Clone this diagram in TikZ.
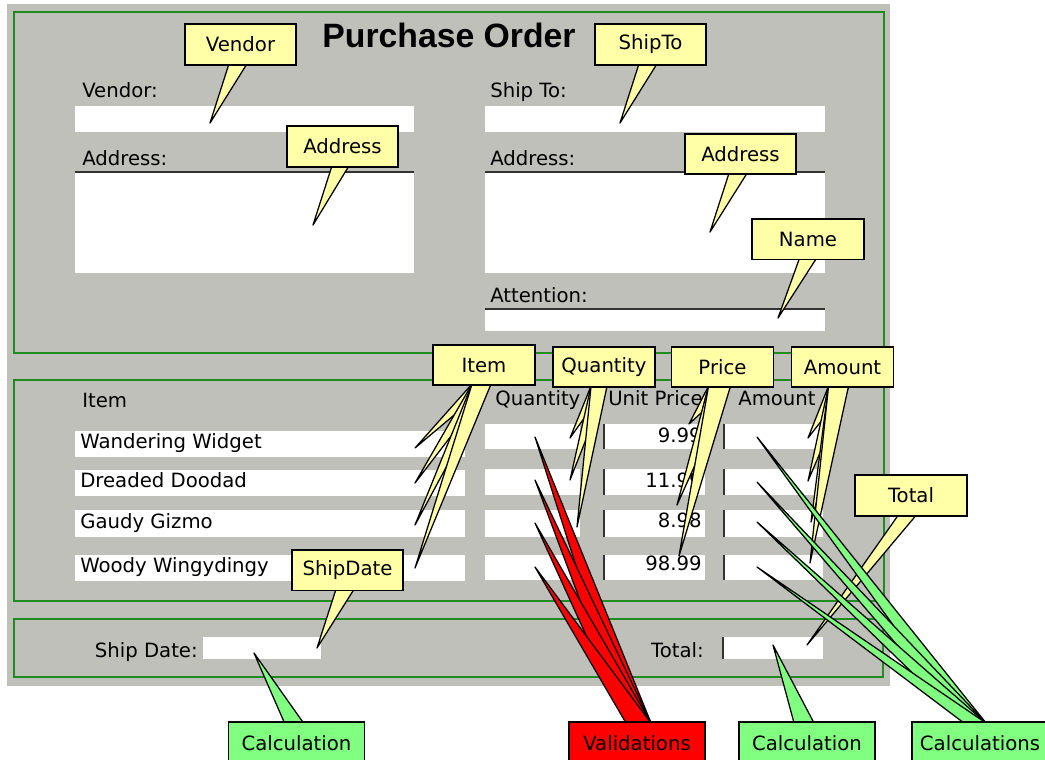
\documentclass[tikz,border=0pt]{standalone}
\usepackage{fontspec}
\setmainfont{DejaVu Sans}
\newfontfamily\titlefont{Liberation Sans}
\usetikzlibrary{positioning,calc}
\definecolor{formgray}{HTML}{C0C0BA}
\definecolor{formgreen}{HTML}{1E8C1E}
\definecolor{noteyellow}{HTML}{FFFFA8}
\definecolor{notegreen}{HTML}{80FF80}
\definecolor{notered}{HTML}{FF0000}
\pgfdeclarelayer{form}
\pgfdeclarelayer{tails}
\pgfsetlayers{form,tails,main}

\begin{document}
\begin{tikzpicture}[
  x=0.025cm, y=-0.025cm,
  section/.style={draw=formgreen, line width=1.1pt},
  field/.style={fill=white},
  edge/.style={draw=black!80, line width=1.1pt},
  lbl/.style={inner sep=0pt, font=\fontsize{14}{16}\selectfont},
  note/.style={draw, line width=1.3pt, fill=noteyellow, inner sep=0pt, font=\fontsize{14}{16}\selectfont},
  wide/.style={minimum width=2.78cm, minimum height=1.02cm},
  narrow/.style={minimum width=2.55cm, minimum height=1cm},
  tag/.style={draw, line width=1.3pt, inner sep=0pt, minimum width=3.4cm, minimum height=1.05cm, font=\fontsize{14}{16}\selectfont},
  tail/.style={draw, line width=0.9pt, fill=noteyellow, line join=round}
]
\useasboundingbox (0,0) rectangle (1045,759);

\begin{pgfonlayer}{form}
\fill[formgray] (7,4) rectangle (890,686);
\draw[section] (14,12) rectangle (884,353);
\draw[section] (14,380) rectangle (884,601);
\draw[section] (14,619) rectangle (883,677);
\node[anchor=base, inner sep=0pt, font=\titlefont\bfseries\fontsize{24}{28}\selectfont] (title) at (449,47) {Purchase Order};

\fill[field] (75,106) rectangle (414,132);
\fill[field] (75,172) rectangle (414,273);
\draw[edge] (75,172) -- (414,172);
\fill[field] (485,106) rectangle (825,132);
\fill[field] (485,172) rectangle (825,273);
\draw[edge] (485,172) -- (825,172);
\fill[field] (485,309) rectangle (825,331);
\draw[edge] (485,309) -- (825,309);
\foreach \ya/\yb in {431/457,470/496,510/537,555/581}
  \fill[field] (75,\ya) rectangle (465,\yb);
\foreach \ya/\yb in {424/449,469/495,510/537,555/580} {
  \fill[field] (485,\ya) rectangle (580,\yb);
  \fill[field] (603,\ya) rectangle (705,\yb);
  \fill[field] (723,\ya) rectangle (823,\yb);
  \draw[edge] (604,\ya) -- (604,\yb);
  \draw[edge] (724,\ya) -- (724,\yb);
}
\fill[field] (203,637) rectangle (321,659);
\fill[field] (722,637) rectangle (823,659);
\draw[edge] (723,637) -- (723,659);

\node[lbl, anchor=base west] (lVendor) at (82,97) {Vendor:};
\node[lbl, anchor=base west] (lAddrL) at (82,165) {Address:};
\node[lbl, anchor=base west] (lShipTo) at (490,97) {Ship To:};
\node[lbl, anchor=base west] (lAddrR) at (490,165) {Address:};
\node[lbl, anchor=base west] (lAttn) at (490,302) {Attention:};
\node[lbl, anchor=base west] (hItem) at (82,407) {Item};
\node[lbl, anchor=base west] (hQty) at (495,405) {Quantity};
\node[lbl, anchor=base west] (hPrice) at (608,405) {Unit Price};
\node[lbl, anchor=base west] (hAmount) at (738,405) {Amount};
\node[lbl, anchor=base west] (item1) at (80,448) {Wandering Widget};
\node[lbl, anchor=base west] (item2) at (80,487) {Dreaded Doodad};
\node[lbl, anchor=base west] (item3) at (80,528) {Gaudy Gizmo};
\node[lbl, anchor=base west] (item4) at (80,572) {Woody Wingydingy};
\node[lbl, anchor=base east] (price1) at (702,442) {9.99};
\node[lbl, anchor=base east] (price2) at (702,487) {11.99};
\node[lbl, anchor=base east] (price3) at (702,527) {8.98};
\node[lbl, anchor=base east] (price4) at (702,570) {98.99};
\node[lbl, anchor=base east] (lShipDate) at (198,657) {Ship Date:};
\node[lbl, anchor=base east] (lTotal) at (704,657) {Total:};
\end{pgfonlayer}

\node[note, wide] (cVendor) at (240.5,44.5) {Vendor};
\node[note, wide] (cAddrL) at (342.5,146.5) {Address};
\node[note, wide] (cShipTo) at (650.5,44.5) {ShipTo};
\node[note, wide] (cAddrR) at (740.5,154) {Address};
\node[note, wide] (cName) at (808,239) {Name};
\node[note, narrow] (cItem) at (484,365) {Item};
\node[note, narrow] (cQty) at (604,367) {Quantity};
\node[note, narrow] (cPrice) at (722.5,367) {Price};
\node[note, narrow] (cAmount) at (842.5,367) {Amount};
\node[note, wide] (cTotal) at (911,495.5) {Total};
\node[note, wide] (cShipDate) at (347.5,570) {ShipDate};
\node[tag, fill=notegreen] (cCalcL) at (296.5,743) {Calculation};
\node[tag, fill=notered] (cValid) at (637,743) {Validations};
\node[tag, fill=notegreen] (cCalcM) at (807,743) {Calculation};
\node[tag, fill=notegreen] (cCalcR) at (980,743) {Calculations};

\coordinate (tVendor) at (210,123);
\coordinate (tAddrL) at (313,225);
\coordinate (tShipTo) at (620,123);
\coordinate (tAddrR) at (710,232);
\coordinate (tName) at (778,318);
\coordinate (tItem1) at (415,448);
\coordinate (tItem2) at (415,483);
\coordinate (tItem3) at (415,525);
\coordinate (tItem4) at (415,568);
\coordinate (tQty1) at (570,438);
\coordinate (tQty2) at (570,480);
\coordinate (tQty3) at (577,527);
\coordinate (tPrice1) at (689,424);
\coordinate (tPrice2) at (683,487);
\coordinate (tPrice3) at (677,505);
\coordinate (tPrice4) at (679,556);
\coordinate (tAmount1) at (808,438);
\coordinate (tAmount2) at (808,481);
\coordinate (tAmount3) at (811,522);
\coordinate (tAmount4) at (810,563);
\coordinate (tTotal) at (807,645);
\coordinate (tShipDate) at (317,648);
\coordinate (tCalcL) at (254,653);
\coordinate (tCalcM) at (773,645);
\coordinate (tValid1) at (535,437);
\coordinate (tValid2) at (535,480);
\coordinate (tValid3) at (535,523);
\coordinate (tValid4) at (535,567);
\coordinate (tCalcR1) at (757,437);
\coordinate (tCalcR2) at (757,482);
\coordinate (tCalcR3) at (757,522);
\coordinate (tCalcR4) at (757,567);

\begin{pgfonlayer}{tails}
\draw[tail] ($(cVendor.south west)+(45,-2)$) -- (tVendor) -- ($(cVendor.south west)+(63,-2)$) -- cycle;
\draw[tail] ($(cAddrL.south west)+(46,-2)$) -- (tAddrL) -- ($(cAddrL.south west)+(63,-2)$) -- cycle;
\draw[tail] ($(cShipTo.south west)+(45,-2)$) -- (tShipTo) -- ($(cShipTo.south west)+(63,-2)$) -- cycle;
\draw[tail] ($(cAddrR.south west)+(45,-2)$) -- (tAddrR) -- ($(cAddrR.south west)+(63,-2)$) -- cycle;
\draw[tail] ($(cName.south west)+(48,-2)$) -- (tName) -- ($(cName.south west)+(65,-2)$) -- cycle;
\foreach \tip in {tItem1,tItem2,tItem3,tItem4}
  \draw[tail] ($(cItem.south west)+(40,-2)$) -- (\tip) -- ($(cItem.south west)+(59,-2)$) -- cycle;
\foreach \tip in {tQty1,tQty2,tQty3}
  \draw[tail] ($(cQty.south west)+(39,-2)$) -- (\tip) -- ($(cQty.south west)+(55,-2)$) -- cycle;
\foreach \tip in {tPrice1,tPrice2,tPrice3,tPrice4}
  \draw[tail] ($(cPrice.south west)+(38,-2)$) -- (\tip) -- ($(cPrice.south west)+(60,-2)$) -- cycle;
\foreach \tip in {tAmount1,tAmount2,tAmount3,tAmount4}
  \draw[tail] ($(cAmount.south west)+(38,-2)$) -- (\tip) -- ($(cAmount.south west)+(58,-2)$) -- cycle;
\draw[tail] ($(cTotal.south west)+(44,-2)$) -- (tTotal) -- ($(cTotal.south west)+(62,-2)$) -- cycle;
\draw[tail] ($(cShipDate.south west)+(45,-2)$) -- (tShipDate) -- ($(cShipDate.south west)+(63,-2)$) -- cycle;
\draw[tail, fill=notegreen] ($(cCalcL.north west)+(57,2)$) -- (tCalcL) -- ($(cCalcL.north west)+(76,2)$) -- cycle;
\draw[tail, fill=notegreen] ($(cCalcM.north west)+(56,2)$) -- (tCalcM) -- ($(cCalcM.north west)+(76,2)$) -- cycle;
\foreach \tip in {tValid1,tValid2,tValid3,tValid4}
  \draw[tail, fill=notered] ($(cValid.north west)+(58,2)$) -- (\tip) -- ($(cValid.north west)+(83,2)$) -- cycle;
\foreach \tip in {tCalcR1,tCalcR2,tCalcR3,tCalcR4}
  \draw[tail, fill=notegreen] ($(cCalcR.north west)+(53,2)$) -- (\tip) -- ($(cCalcR.north west)+(75,2)$) -- cycle;
\end{pgfonlayer}
\end{tikzpicture}
\end{document}
